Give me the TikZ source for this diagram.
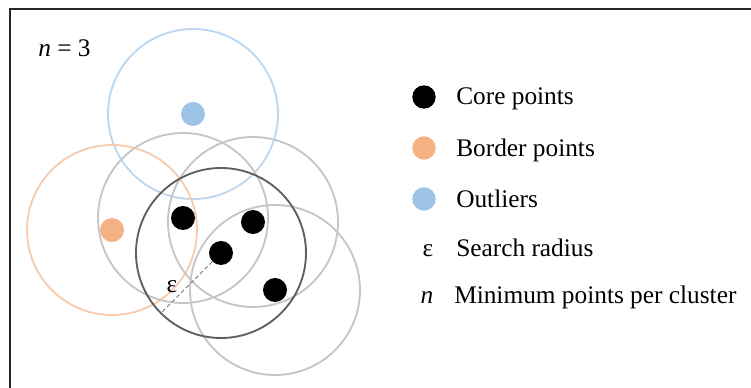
\documentclass[tikz,border=0pt]{standalone}
\usepackage{fontspec}
\setmainfont{Liberation Serif}
\definecolor{corecol}{HTML}{000000}
\definecolor{bordercol}{HTML}{F4B183}
\definecolor{borderring}{HTML}{F8CBAD}
\definecolor{outliercol}{HTML}{9DC3E6}
\definecolor{outlierring}{HTML}{BDD7EE}
\definecolor{greyring}{HTML}{C6C6C6}
\definecolor{darkring}{HTML}{5F5F5F}
\definecolor{framecol}{HTML}{262626}
\begin{document}
\begin{tikzpicture}[x=0.75pt,y=-0.75pt,
  ring/.style={circle, draw=#1, line width=1.4pt, inner sep=0pt, minimum size=127.5pt},
  dot/.style={circle, fill=#1, inner sep=0pt, minimum size=18pt},
  legdot/.style={circle, fill=#1, inner sep=0pt, minimum size=17.5pt},
  lbl/.style={inner sep=0pt, anchor=base west, font=\fontsize{19}{22}\selectfont},
  sym/.style={inner sep=0pt, anchor=base, font=\fontsize{19}{22}\selectfont},
  epsline/.style={draw=black!55, line width=0.7pt, dash pattern=on 3pt off 2pt}]
\useasboundingbox (0,0) rectangle (751,388);

% frame (top and left edges)
\draw[framecol, line width=1.5pt] (10,388) -- (10,9.5) -- (751,9.5);

% minimum number of points
\node[lbl] (nval) at (38,57) {\textit{n} = 3};

% search-radius circles around each point
\node[ring=outlierring] (rb) at (193,114) {};
\node[ring=borderring]  (ro) at (112,230) {};
\node[ring=greyring]    (r1) at (183,218) {};
\node[ring=greyring]    (r2) at (253,222) {};
\node[ring=greyring]    (r4) at (275,290) {};
\node[ring=darkring]    (r3) at (221,253) {};

% points
\node[dot=outliercol] (pb) at (193,114) {};
\node[dot=bordercol]  (po) at (112,230) {};
\node[dot=corecol]    (c1) at (183,218) {};
\node[dot=corecol]    (c2) at (253,222) {};
\node[dot=corecol]    (c3) at (221,253) {};
\node[dot=corecol]    (c4) at (275,290) {};

% radius marker
\draw[epsline] (c3) -- (r3.225);
\node[sym] (eps) at (172,293) {ε};

% legend
\node[legdot=corecol]    (l1) at (424,97)  {};
\node[legdot=bordercol]  (l2) at (424,148) {};
\node[legdot=outliercol] (l3) at (424,199) {};
\node[sym] (l4) at (428,257) {ε};
\node[sym] (l5) at (427,304) {\textit{n}};
\node[lbl] (t1) at (456,105) {Core points};
\node[lbl] (t2) at (456,157) {Border points};
\node[lbl] (t3) at (456,208) {Outliers};
\node[lbl] (t4) at (456,257) {Search radius};
\node[lbl] (t5) at (454,304) {Minimum points per cluster};
\end{tikzpicture}
\end{document}
